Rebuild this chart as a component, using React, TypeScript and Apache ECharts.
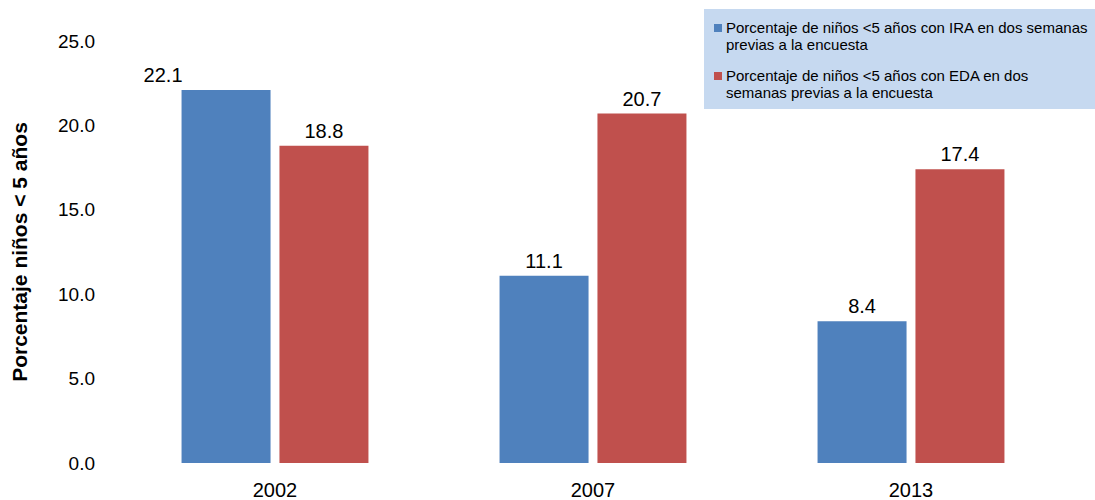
import React, { useEffect, useRef } from "react";
import * as echarts from "echarts";

const categories = ["2002", "2007", "2013"];
const seriesNames = [
  "Porcentaje de niños <5 años con IRA en dos semanas\nprevias a la encuesta",
  "Porcentaje de niños <5 años con EDA en dos\nsemanas previas a la encuesta",
];
const iraValues = [22.1, 11.1, 8.4];
const edaValues = [18.8, 20.7, 17.4];
const colors = ["#4f81bd", "#c0504d"];
const yAxisName = "Porcentaje niños < 5 años";

export default function App() {
  const ref = useRef<HTMLDivElement>(null);
  useEffect(() => {
    if (!ref.current) return;
    const chart = echarts.init(ref.current, undefined, { renderer: "svg" });
    const font = "Liberation Sans, Arial, sans-serif";
    const legendGraphics: any[] = [
      { type: "rect", shape: { x: 704, y: 9, width: 391, height: 100 }, style: { fill: "#c6d9f0" } },
    ];
    seriesNames.forEach((n, i) => {
      const y0 = 19 + i * 48;
      legendGraphics.push({ type: "rect", shape: { x: 714, y: y0 + 5, width: 8, height: 8 }, style: { fill: colors[i] } });
      legendGraphics.push({
        type: "text",
        x: 726,
        y: y0,
        style: { text: n, font: `15px ${font}`, fill: "#000", lineHeight: 17 },
      });
    });
    const labelOpt = {
      show: true,
      position: "top",
      distance: 5,
      color: "#000",
      fontSize: 20,
      fontFamily: font,
      formatter: (p: any) => p.value.toFixed(1),
    };
    const iraData = iraValues.map((v, i) =>
      i === 0 ? { value: v, label: { offset: [-63, 0] } } : v
    );
    chart.setOption({
      animation: false,
      textStyle: { fontFamily: font },
      grid: { left: 116, right: 25, top: 41, bottom: 37, outerBoundsMode: "none", containLabel: false },
      xAxis: {
        type: "category",
        data: categories,
        axisLine: { show: false },
        axisTick: { show: false },
        axisLabel: { color: "#000", fontSize: 20, margin: 17, fontFamily: font },
      },
      yAxis: {
        type: "value",
        min: 0,
        max: 25,
        interval: 5,
        name: yAxisName,
        nameLocation: "middle",
        nameGap: 86,
        nameTextStyle: { color: "#000", fontSize: 21, fontWeight: "bold", fontFamily: font },
        axisLine: { show: false },
        axisTick: { show: false },
        splitLine: { show: false },
        axisLabel: { color: "#000", fontSize: 19, margin: 21, fontFamily: font, formatter: (v: number) => v.toFixed(1) },
      },
      series: [
        { name: "IRA", type: "bar", data: iraData, barWidth: 89, barGap: "10%", itemStyle: { color: colors[0] }, label: labelOpt },
        { name: "EDA", type: "bar", data: edaValues, barWidth: 89, barGap: "10%", itemStyle: { color: colors[1] }, label: labelOpt },
      ],
      graphic: legendGraphics,
    });
    return () => chart.dispose();
  }, []);
  return <div ref={ref} style={{ position: "absolute", left: 0, top: 0, width: 1095, height: 500 }} />;
}
